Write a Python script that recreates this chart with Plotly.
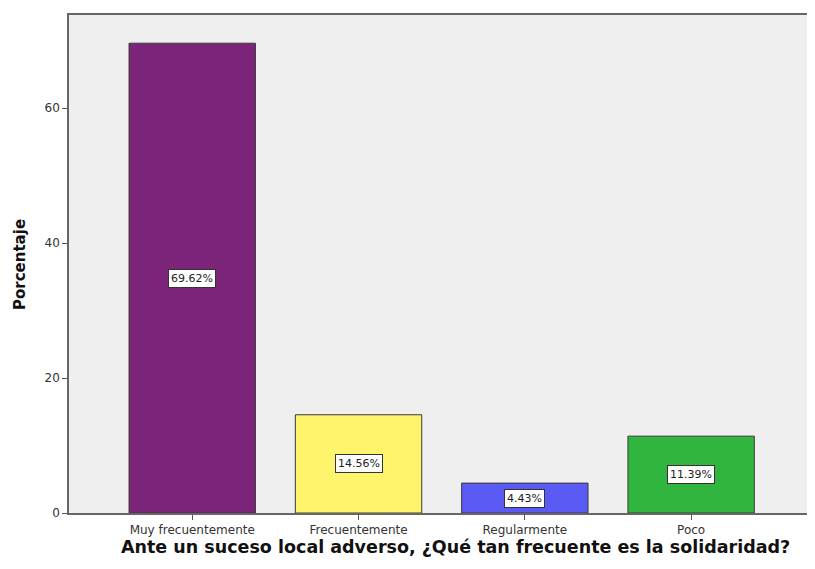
import plotly.graph_objects as go

categories = ["Muy frecuentemente", "Frecuentemente", "Regularmente", "Poco"]
values = [69.62, 14.56, 4.43, 11.39]
labels = ["69.62%", "14.56%", "4.43%", "11.39%"]
colors = ["#7B2479", "#FFF56C", "#5A5AF5", "#30B53E"]
y_ticks = [0, 20, 40, 60]
x_title = "Ante un suceso local adverso, ¿Qué tan frecuente es la solidaridad?"
y_title = "Porcentaje"

fig = go.Figure()
fig.add_trace(go.Bar(
    x=categories, y=values,
    marker=dict(color=colors, line=dict(color="#3a3a3a", width=1)),
    hoverinfo="skip",
))

for c, v, t in zip(categories, values, labels):
    fig.add_annotation(
        x=c, y=v / 2, text=t, showarrow=False,
        font=dict(family="DejaVu Sans", size=11, color="#222"),
        bgcolor="white", bordercolor="#333", borderwidth=1, borderpad=2,
    )

# axis titles (the reference image is cropped on the right, so the x title sits right of centre)
fig.add_annotation(
    xref="paper", yref="paper", x=0.512, y=-0.068, xanchor="center", yanchor="middle",
    text="<b>" + x_title + "</b>", showarrow=False,
    font=dict(family="DejaVu Sans", size=17.5, color="#111"),
)
fig.add_annotation(
    xref="paper", yref="paper", x=-0.065, y=0.5, xanchor="center", yanchor="middle",
    text="<b>" + y_title + "</b>", showarrow=False, textangle=-90,
    font=dict(family="DejaVu Sans", size=15, color="#111"),
)

fig.update_layout(
    width=815, height=553,
    margin=dict(l=61, r=0, t=7, b=48),
    paper_bgcolor="white", plot_bgcolor="#EFEFEF",
    bargap=0.24, showlegend=False,
    xaxis=dict(
        type="category", range=[-0.741, 3.793], automargin=False,
        showline=True, linecolor="#666", linewidth=1.5, mirror=True,
        ticks="outside", ticklen=5, tickcolor="#555",
        tickfont=dict(family="DejaVu Sans", size=12, color="#333"),
        showgrid=False,
    ),
    yaxis=dict(
        range=[0, 73.8], tickvals=y_ticks, automargin=False,
        showline=True, linecolor="#666", linewidth=1.5,
        ticks="outside", ticklen=5, tickcolor="#555",
        tickfont=dict(family="DejaVu Sans", size=12, color="#333"),
        showgrid=False, zeroline=False,
    ),
)

fig.write_html("out.html")
